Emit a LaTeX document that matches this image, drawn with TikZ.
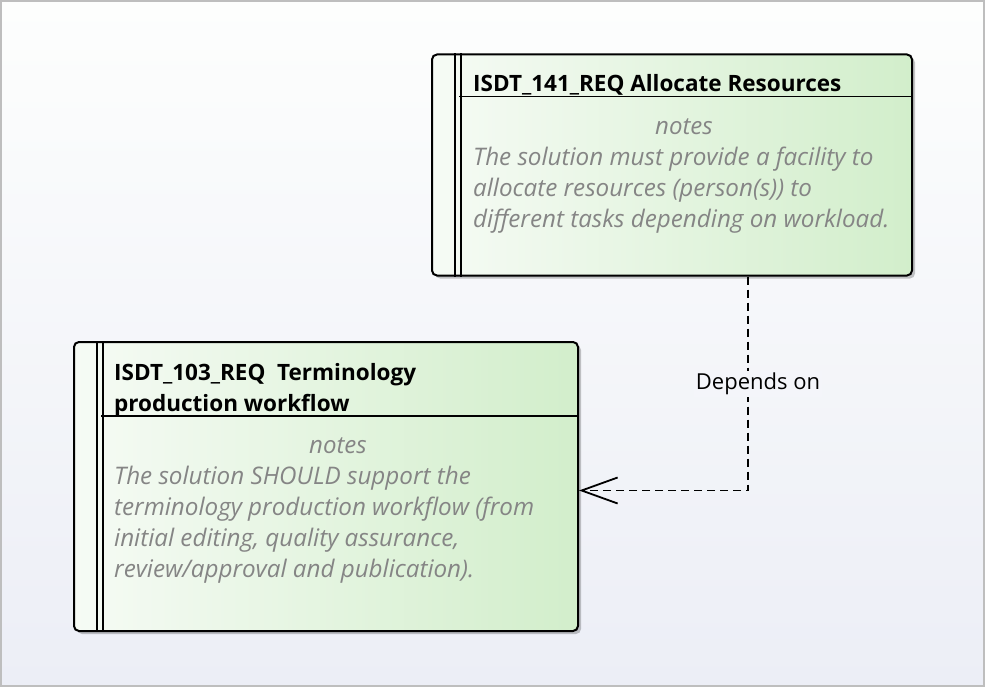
\documentclass[tikz,border=0pt]{standalone}
\usepackage{fontspec}
\setmainfont{Open Sans}
\usetikzlibrary{arrows.meta,shadows,calc}
\definecolor{bgtop}{RGB}{253,254,253}
\definecolor{bgbot}{RGB}{236,238,246}
\definecolor{bgmid}{RGB}{244,245,250}
\definecolor{boxL}{RGB}{246,251,245}
\definecolor{boxR}{RGB}{210,238,203}
\definecolor{notegray}{RGB}{133,133,133}
\definecolor{framegray}{RGB}{190,190,190}
\begin{document}
\begin{tikzpicture}[x=1pt,y=-1pt,
  reqbox/.style={draw=black, line width=2pt, rounded corners=5pt,
    left color=boxL, right color=boxR, inner sep=0pt,
    drop shadow={shadow xshift=3pt, shadow yshift=-3pt, fill=black, opacity=0.22}},
  bar/.style={draw=black, line width=1.8pt},
  titletext/.style={font=\fontsize{22.5}{30}\selectfont\bfseries, anchor=base west, inner sep=0pt},
  notehead/.style={font=\fontsize{24}{31}\selectfont\itshape, text=notegray, inner sep=0pt, anchor=base},
  notetext/.style={font=\fontsize{24.2}{31}\selectfont\itshape, text=notegray, inner sep=0pt, anchor=base west},
  dep/.style={draw=black, line width=1.8pt, dash pattern=on 8pt off 5pt,
    -{Straight Barb[length=36pt,width=26pt]}},
  lbl/.style={font=\fontsize{22}{25}\selectfont, fill=bgmid, inner sep=2pt}]
\useasboundingbox (0,0) rectangle (985,687);
\shade[top color=bgtop, bottom color=bgbot] (0,0) rectangle (985,687);
\draw[framegray, line width=4pt] (0,0) rectangle (985,687);

% top requirement
\node[reqbox, minimum width=480pt, minimum height=221pt] (req141) at (672,165) {};
\draw[bar] ($(req141.north west)+(24,0)$) -- ($(req141.south west)+(24,0)$);
\draw[bar] ($(req141.north west)+(30,0)$) -- ($(req141.south west)+(30,0)$);
\draw[bar] ($(req141.north west)+(28,43)$) -- ($(req141.north east)+(0,43)$);
\node[titletext] (t141) at (473,92) {ISDT\_141\_REQ Allocate Resources};
\node[notehead] (h141) at (684,134.5) {notes};
\node[notetext] (a141) at (473,165.5) {The solution must provide a facility to};
\node[notetext] (b141) at (473,196.5) {allocate resources (person(s)) to};
\node[notetext] (c141) at (473,227.5) {different tasks depending on workload.};

% bottom requirement
\node[reqbox, minimum width=504pt, minimum height=289pt] (req103) at (326,486.5) {};
\draw[bar] ($(req103.north west)+(24,0)$) -- ($(req103.south west)+(24,0)$);
\draw[bar] ($(req103.north west)+(30,0)$) -- ($(req103.south west)+(30,0)$);
\draw[bar] ($(req103.north west)+(28,75)$) -- ($(req103.north east)+(0,75)$);
\node[titletext] (t103a) at (114,380) {ISDT\_103\_REQ\ \ Terminology};
\node[titletext] (t103b) at (114,411) {production workflow};
\node[notehead] (h103) at (338,453) {notes};
\node[notetext] (a103) at (114,484) {The solution SHOULD support the};
\node[notetext] (b103) at (114,515) {terminology production workflow (from};
\node[notetext] (c103) at (114,546) {initial editing, quality assurance,};
\node[notetext] (d103) at (114,577) {review/approval and publication).};

% dependency
\draw[dep] ([xshift=76pt]req141.south) |- ([yshift=-4pt]req103.east)
  node[lbl, pos=0.25, xshift=10pt] (deplbl) {Depends on};
\end{tikzpicture}
\end{document}
